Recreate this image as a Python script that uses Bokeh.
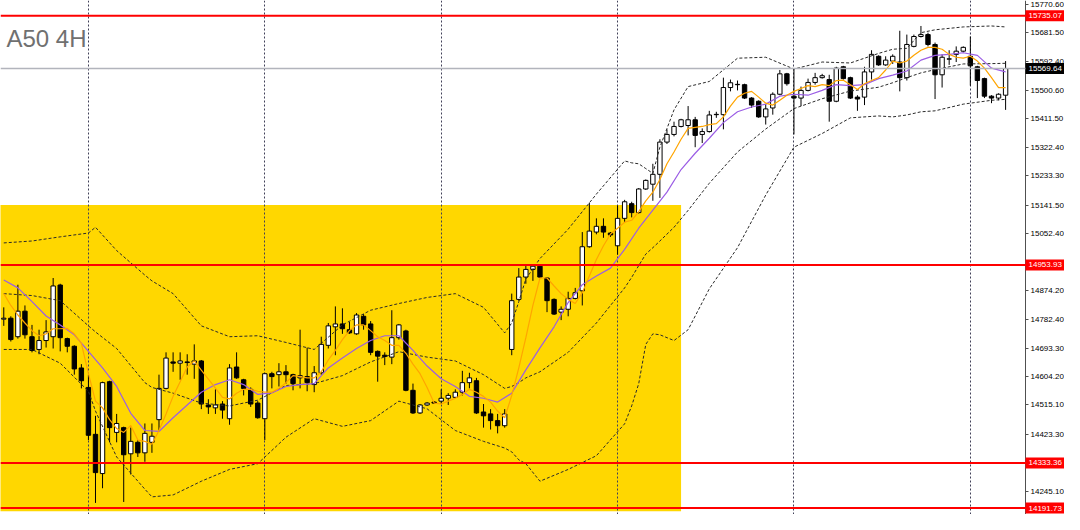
from bokeh.plotting import figure
from bokeh.models import Range1d, FixedTicker, PrintfTickFormatter, Span, Label, Grid, ColumnDataSource
from bokeh.core.properties import value
from bokeh.embed import file_html
from bokeh.resources import INLINE

# ---------------- data (A50 futures, 4H candles) ----------------
opens = [
    14784, 14787, 14729, 14809, 14729, 14689, 14717, 14729, 14891, 14723,
    14699, 14631, 14570, 14423, 14300, 14588, 14429, 14444, 14362, 14398,
    14365, 14398, 14469, 14567, 14650, 14646, 14650, 14643, 14653, 14515,
    14506, 14518, 14472, 14634, 14594, 14564, 14521, 14472, 14613, 14610,
    14619, 14610, 14600, 14604, 14579, 14616, 14702, 14760, 14769, 14751,
    14738, 14793, 14769, 14683, 14671, 14665, 14726, 14747, 14561, 14490,
    14515, 14524, 14527, 14536, 14539, 14555, 14585, 14591, 14493, 14487,
    14466, 14450, 14689, 14846, 14916, 14940, 14950, 14913, 14846, 14806,
    14815, 14849, 14873, 15011, 15057, 15075, 15054, 15014, 15100, 15146,
    15118, 15192, 15207, 15238, 15339, 15363, 15388, 15391, 15409, 15363,
    15372, 15425, 15425, 15510, 15519, 15519, 15477, 15467, 15418, 15446,
    15489, 15553, 15483, 15477, 15501, 15526, 15541, 15535, 15467, 15575,
    15541, 15480, 15480, 15559, 15608, 15581, 15593, 15590, 15541, 15639,
    15670, 15676, 15645, 15550, 15599, 15614, 15624, 15608, 15575, 15538,
    15483, 15477, 15486]
highs = [
    14821, 14793, 14892, 14827, 14766, 14751, 14781, 14913, 14895, 14726,
    14702, 14643, 14610, 14481, 14588, 14591, 14487, 14447, 14444, 14405,
    14457, 14457, 14610, 14680, 14680, 14680, 14674, 14705, 14656, 14533,
    14564, 14527, 14643, 14680, 14597, 14570, 14527, 14616, 14619, 14646,
    14640, 14613, 14751, 14695, 14637, 14729, 14772, 14824, 14818, 14775,
    14803, 14800, 14778, 14686, 14680, 14812, 14769, 14751, 14582, 14518,
    14524, 14527, 14564, 14552, 14564, 14622, 14616, 14600, 14518, 14502,
    14487, 14502, 14864, 14944, 14956, 14953, 14953, 14916, 14849, 14824,
    14870, 14882, 15057, 15149, 15100, 15100, 15057, 15140, 15158, 15152,
    15195, 15222, 15271, 15348, 15379, 15403, 15412, 15452, 15418, 15382,
    15437, 15434, 15541, 15535, 15532, 15522, 15480, 15470, 15458, 15495,
    15565, 15556, 15568, 15513, 15538, 15556, 15553, 15550, 15575, 15578,
    15544, 15486, 15575, 15627, 15611, 15608, 15614, 15688, 15676, 15676,
    15703, 15682, 15651, 15614, 15627, 15639, 15639, 15670, 15578, 15541,
    15486, 15492, 15593]
lows = [
    14763, 14714, 14723, 14723, 14680, 14674, 14695, 14692, 14683, 14680,
    14610, 14567, 14405, 14208, 14254, 14398, 14398, 14211, 14297, 14352,
    14337, 14365, 14435, 14564, 14619, 14594, 14610, 14597, 14502, 14487,
    14487, 14472, 14453, 14597, 14545, 14509, 14472, 14405, 14567, 14573,
    14582, 14561, 14567, 14558, 14555, 14610, 14692, 14671, 14738, 14738,
    14735, 14751, 14671, 14588, 14640, 14643, 14720, 14558, 14487, 14487,
    14512, 14518, 14518, 14515, 14536, 14545, 14567, 14487, 14444, 14438,
    14426, 14444, 14671, 14842, 14895, 14904, 14913, 14806, 14797, 14781,
    14793, 14846, 14827, 15008, 15050, 15039, 15042, 14986, 15087, 15103,
    15115, 15189, 15155, 15164, 15333, 15357, 15385, 15360, 15323, 15336,
    15369, 15415, 15379, 15498, 15501, 15474, 15446, 15415, 15394, 15425,
    15486, 15516, 15363, 15452, 15498, 15519, 15538, 15403, 15464, 15535,
    15474, 15437, 15455, 15535, 15578, 15578, 15584, 15498, 15532, 15636,
    15667, 15639, 15474, 15510, 15581, 15590, 15620, 15516, 15477, 15477,
    15461, 15470, 15440]
closes = [
    14787, 14720, 14809, 14735, 14686, 14717, 14744, 14888, 14726, 14699,
    14628, 14591, 14420, 14303, 14585, 14444, 14457, 14359, 14401, 14365,
    14426, 14417, 14567, 14662, 14646, 14653, 14648, 14653, 14518, 14509,
    14515, 14499, 14631, 14600, 14567, 14518, 14475, 14613, 14604, 14619,
    14610, 14582, 14607, 14585, 14616, 14705, 14763, 14769, 14754, 14741,
    14797, 14766, 14680, 14668, 14667, 14726, 14766, 14561, 14490, 14515,
    14521, 14521, 14536, 14545, 14555, 14585, 14600, 14490, 14481, 14466,
    14450, 14487, 14842, 14916, 14940, 14950, 14916, 14842, 14800, 14815,
    14849, 14867, 15011, 15060, 15075, 15057, 15048, 15100, 15152, 15118,
    15192, 15219, 15238, 15339, 15363, 15388, 15409, 15409, 15360, 15372,
    15424, 15426, 15510, 15525, 15520, 15477, 15455, 15418, 15443, 15489,
    15553, 15522, 15477, 15501, 15526, 15541, 15547, 15467, 15571, 15538,
    15477, 15474, 15559, 15614, 15581, 15596, 15608, 15541, 15645, 15670,
    15676, 15645, 15550, 15605, 15600, 15624, 15636, 15578, 15532, 15483,
    15477, 15489, 15569.64]

# fast moving average (orange), one value per bar
ma_fast = [
    14864, 14827, 14797, 14772, 14748, 14732, 14738, 14754, 14754, 14755,
    14738, 14708, 14613, 14527, 14506, 14469, 14441, 14429, 14451, 14405,
    14401, 14392, 14435, 14487, 14542, 14588, 14634, 14653, 14624, 14596,
    14568, 14539, 14534, 14552, 14564, 14564, 14558, 14555, 14555, 14567,
    14585, 14607, 14604, 14600, 14600, 14619, 14656, 14686, 14720, 14748,
    14766, 14766, 14748, 14729, 14717, 14702, 14702, 14677, 14643, 14613,
    14570, 14521, 14518, 14527, 14536, 14548, 14564, 14555, 14542, 14524,
    14496, 14475, 14545, 14631, 14726, 14827, 14913, 14913, 14888, 14864,
    14846, 14833, 14867, 14919, 14971, 15014, 15051, 15069, 15088, 15094,
    15121, 15155, 15182, 15222, 15271, 15308, 15348, 15382, 15385, 15388,
    15394, 15397, 15418, 15452, 15480, 15492, 15498, 15480, 15461, 15455,
    15470, 15486, 15498, 15507, 15516, 15513, 15519, 15516, 15532, 15533,
    15519, 15504, 15522, 15532, 15541, 15565, 15593, 15587, 15593, 15611,
    15627, 15636, 15636, 15630, 15614, 15605, 15602, 15608, 15593, 15571,
    15541, 15510, 15510]

# slow moving average (purple), read every second bar
ma_slow_bar = list(range(0, 143, 2))
ma_slow = [
    14907, 14882, 14839, 14794, 14766, 14735, 14683, 14631, 14573, 14489,
    14435, 14432, 14475, 14515, 14555, 14579, 14594, 14579, 14548, 14553,
    14573, 14579, 14582, 14631, 14662, 14692, 14717, 14732, 14732, 14686,
    14637, 14597, 14573, 14542, 14536, 14524, 14552, 14625, 14694, 14760,
    14836, 14892, 14919, 14944, 15003, 15069, 15126, 15182, 15253, 15304,
    15351, 15400, 15434, 15449, 15458, 15483, 15489, 15486, 15501, 15519,
    15516, 15519, 15538, 15549, 15562, 15596, 15611, 15614, 15619, 15611,
    15571, 15559]

# Bollinger bands (dotted), read at these bars
bb_bar = [0, 4, 8, 12, 13, 16, 20, 21, 24, 28, 32, 36, 40, 44, 48, 52, 56, 60, 64, 68,
          71, 72, 73, 74, 76, 80, 84, 88, 89, 90, 91, 92, 93, 95, 97, 100, 104, 108, 112, 116,
          120, 124, 126, 128, 130, 132, 136, 140, 142]
bb_upper = [15023, 15029, 15042, 15054, 15072, 14999, 14922, 14904, 14864, 14763,
            14729, 14732, 14711, 14689, 14766, 14812, 14833, 14852, 14864, 14821,
            14741, 14772, 14839, 14910, 14974, 15066, 15176, 15280, 15274, 15271,
            15256, 15241, 15323, 15440, 15513, 15529, 15602, 15605, 15568, 15590,
            15587, 15617, 15630, 15633, 15682, 15691, 15700, 15703, 15700]
bb_mid = [14864, 14858, 14842, 14763, 14744, 14692, 14585, 14570, 14552, 14521,
          14512, 14530, 14576, 14582, 14607, 14650, 14682, 14665, 14653, 14610,
          14567, 14573, 14585, 14600, 14619, 14680, 14772, 14882, 14915, 14952,
          14988, 15008, 15029, 15072, 15125, 15210, 15308, 15380, 15444, 15475,
          15499, 15511, 15525, 15541, 15556, 15566, 15584, 15585, 15586]
bb_lower = [14689, 14689, 14646, 14558, 14496, 14352, 14251, 14227, 14233, 14276,
            14313, 14331, 14414, 14472, 14448, 14466, 14527, 14503, 14435, 14401,
            14380, 14368, 14343, 14331, 14276, 14313, 14356, 14456, 14512, 14582,
            14705, 14738, 14735, 14717, 14751, 14879, 15008, 15173, 15323, 15366,
            15415, 15421, 15418, 15424, 15434, 15437, 15458, 15470, 15473]

# horizontal levels and the current price
levels = [15735.07, 14953.93, 14333.36, 14191.73]
last_price = 15569.64

# yellow zone (bar index / price)
zone_left, zone_right = -5, 96
zone_bottom, zone_top = 14182, 15142

# price axis ticks and vertical grid bars
price_ticks = [15770.60, 15681.50, 15592.40, 15500.60, 15411.50, 15322.40, 15233.30,
               15141.50, 15052.40, 14874.20, 14782.40, 14693.30, 14604.20, 14515.10,
               14423.30, 14245.10]
grid_bars = [12, 37, 62, 87, 112, 137]

# ---------------- layout geometry ----------------
W, H = 1064, 514
AXIS_PX = 1025                 # pixel where the price scale starts
x_lo, scale_bar = -0.464, 144.82   # bar positions at left edge / at the price scale
ppb = AXIS_PX / (scale_bar - x_lo)  # pixels per bar
x_hi = x_lo + W / ppb
y_lo, y_hi = 14171.7, 15782.85
tag_cx = x_lo + (AXIS_PX + 0.5 * (W - AXIS_PX)) / ppb
tag_tx = x_lo + (AXIS_PX + 3) / ppb

bars = list(range(len(closes)))
FONT = "Liberation Sans"

p = figure(width=W, height=H,
           x_range=Range1d(x_lo, x_hi), y_range=Range1d(y_lo, y_hi),
           output_backend="svg", toolbar_location=None,
           x_axis_location=None, y_axis_location="right",
           min_border_left=0, min_border_top=0, min_border_bottom=0, min_border_right=0)
p.outline_line_color = None
p.background_fill_color = "white"
p.border_fill_color = "white"
p.grid.visible = False

vgrid = Grid(dimension=0, ticker=FixedTicker(ticks=grid_bars),
             grid_line_color="#404058", grid_line_dash="2 2", grid_line_width=1)
p.add_layout(vgrid)

# yellow zone behind everything
p.quad(left=[zone_left], right=[zone_right], bottom=[zone_bottom], top=[zone_top],
       fill_color="#FFD700", line_color=None, level="image")

# candles
tops = [max(o, c) for o, c in zip(opens, closes)]
bots = [min(o, c) for o, c in zip(opens, closes)]
fills = ["white" if c >= o else "black" for o, c in zip(opens, closes)]
src = ColumnDataSource(dict(x=bars, h=highs, l=lows, top=tops, bottom=bots, fill=fills))
p.segment(x0="x", y0="h", x1="x", y1="l", source=src, line_color="black", line_width=1)
p.vbar(x="x", width=0.62, top="top", bottom="bottom", source=src,
       fill_color="fill", line_color="black", line_width=1)

# indicators
for band in (bb_upper, bb_mid, bb_lower):
    p.line(bb_bar, band, line_color="#2a2a2a", line_width=1, line_dash="3 2")
p.line(ma_slow_bar, ma_slow, line_color="#9B5DE5", line_width=1.2)
p.line(bars, ma_fast, line_color="#FFA500", line_width=1.2)

# horizontal lines
p.add_layout(Span(location=last_price, dimension="width", line_color="#B2B4BC", line_width=1.5))
for lv in levels:
    p.add_layout(Span(location=lv, dimension="width", line_color="#FF0000", line_width=2))

# price axis, drawn at the edge of the chart area
ax = p.yaxis[0]
ax.fixed_location = scale_bar
ax.ticker = FixedTicker(ticks=price_ticks)
ax.formatter = PrintfTickFormatter(format="%.2f")
ax.major_label_text_font = FONT
ax.major_label_text_font_size = "8px"
ax.major_label_text_color = "#000000"
ax.axis_line_color = "#505050"
ax.major_tick_line_color = "#505050"
ax.major_tick_out = 3
ax.major_tick_in = 0
ax.minor_tick_line_color = None
ax.major_label_standoff = 2

# price tags on the scale
tag_y = levels + [last_price]
tag_src = ColumnDataSource(dict(y=tag_y, text=[f"{v:.2f}" for v in tag_y],
                                fill=["#FF0000"] * len(levels) + ["#000000"]))
p.rect(x=tag_cx, y="y", width=W - AXIS_PX, height=11, width_units="screen", height_units="screen",
       fill_color="fill", line_color=None, source=tag_src, level="overlay")
p.text(x=tag_tx, y="y", text="text", source=tag_src, text_font=value(FONT),
       text_font_size="8px", text_color="white", text_baseline="middle", text_align="left",
       level="overlay")

# chart caption
p.add_layout(Label(x=6, y=463, x_units="screen", y_units="screen", text="A50 4H",
                   text_font=FONT, text_font_size="24px", text_color="#707070"))

open("out.html", "w").write(file_html(p, INLINE))
